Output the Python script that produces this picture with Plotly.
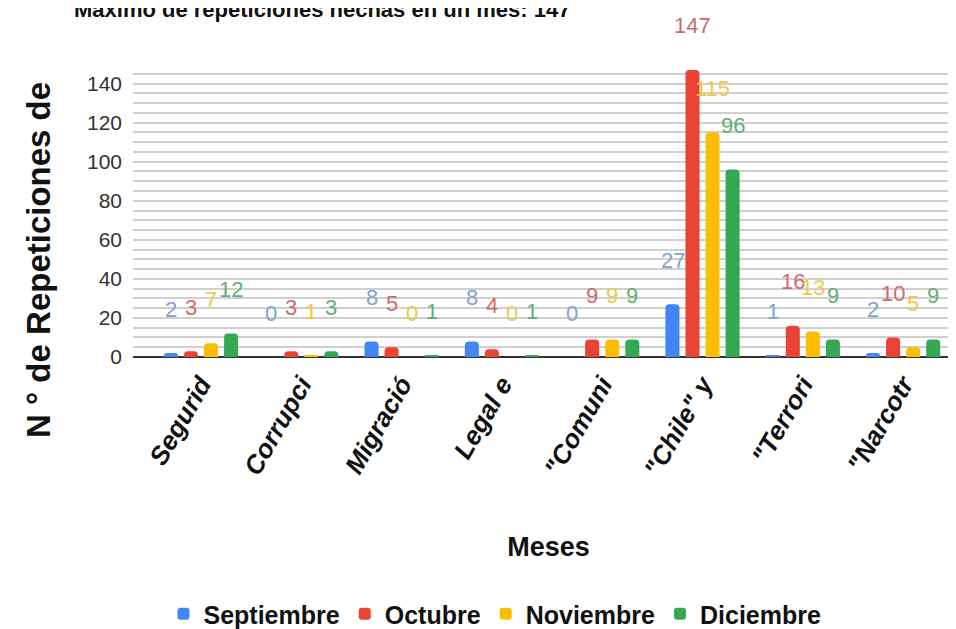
import plotly.graph_objects as go

categories = ["Segurid", "Corrupci", "Migració", "Legal e", "\"Comuni", "\"Chile\" y", "\"Terrori", "\"Narcotr"]
series_names = ["Septiembre", "Octubre", "Noviembre", "Diciembre"]
septiembre = [2, 0, 8, 8, 0, 27, 1, 2]
octubre = [3, 3, 5, 4, 9, 147, 16, 10]
noviembre = [7, 1, 0, 0, 9, 115, 13, 5]
diciembre = [12, 3, 1, 1, 9, 96, 9, 9]
values = [septiembre, octubre, noviembre, diciembre]
y_ticks = [0, 20, 40, 60, 80, 100, 120, 140]

bar_colors = ["#4285F4", "#EA4335", "#FBBC04", "#34A853"]
label_colors = ["#7fa3d4", "#d06a66", "#f1c84a", "#5fb073"]

SANS = "Liberation Sans, Arial, sans-serif"

fig = go.Figure()
for name, vals, col in zip(series_names, values, bar_colors):
    fig.add_trace(go.Bar(x=categories, y=vals, name=name, marker_color=col,
                         marker_line_width=0))

annotations = []
for i, (vals, col) in enumerate(zip(values, label_colors)):
    for cat, v in zip(categories, vals):
        annotations.append(dict(x=cat, y=v, xref="x", yref="y", text=str(v),
                                showarrow=False, xshift=(i - 1.5) * 20, yshift=44,
                                yanchor="middle",
                                font=dict(family=SANS, size=22, color=col)))

# y-axis title placed in paper coordinates (plot spans x 125..956, y 349..60)
annotations.append(dict(x=(30 - 125) / 831, y=(349 - 252) / 289, xref="paper", yref="paper",
                        xanchor="center", yanchor="middle",
                        text="N ° de Repeticiones de", showarrow=False, textangle=-90,
                        font=dict(family=SANS, size=33, color="#111", weight="bold")))

fig.update_layout(
    width=956, height=629,
    margin=dict(l=125, r=0, t=60, b=280),
    paper_bgcolor="white", plot_bgcolor="white",
    barmode="group", bargap=0.2, bargroupgap=0.3, barcornerradius=4,
    title=dict(text="Máximo de repeticiones hechas en un mes: 147", x=66 / 956, xanchor="left",
               xref="container", yref="container", y=1 - 1 / 629, yanchor="middle",
               font=dict(family=SANS, size=22, color="#111", weight="bold")),
    xaxis=dict(range=[-0.678, 7.607], tickangle=-60, showgrid=False, ticks="",
               tickfont=dict(family=SANS, size=26, color="#111", weight="bold", style="italic"),
               ticklabelstandoff=6,
               title=dict(text="Meses", font=dict(family=SANS, size=27, color="#111", weight="bold"),
                          standoff=56),
               showline=False, zeroline=False),
    yaxis=dict(range=[0, 148], tickvals=y_ticks, showgrid=True, gridcolor="#cfcfcf", gridwidth=1.5,
               tickfont=dict(family=SANS, size=21, color="#333"),
               minor=dict(dtick=5, showgrid=True, gridcolor="#cfcfcf", gridwidth=1.5),
               zeroline=True, zerolinecolor="#333", zerolinewidth=2, ticks="", ticklabelstandoff=10),
    legend=dict(orientation="h", x=487 / 956, xanchor="center", xref="container", y=0,
                yref="container", yanchor="bottom", traceorder="normal", entrywidthmode="pixels",
                font=dict(family=SANS, size=25, color="#111", weight="bold"), itemwidth=30),
    annotations=annotations,
)

fig.write_html("out.html")
